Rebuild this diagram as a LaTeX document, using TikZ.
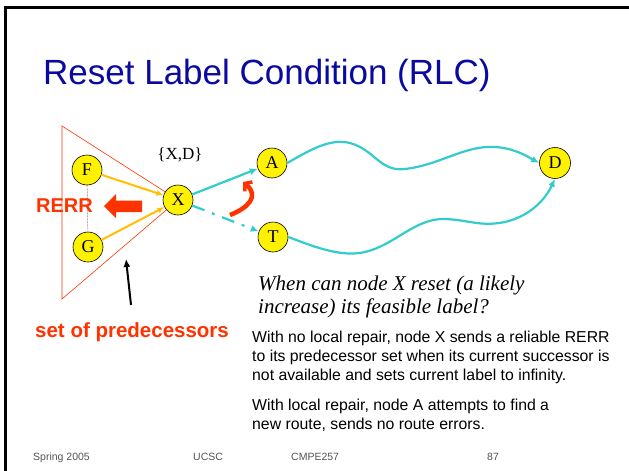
\documentclass[tikz,border=0pt]{standalone}
\usepackage{fontspec}
\setmainfont{Liberation Serif}
\setsansfont{Liberation Sans}
\usetikzlibrary{arrows.meta}
\definecolor{titleblue}{RGB}{10,10,160}
\definecolor{rerrred}{RGB}{255,51,0}
\definecolor{cyanline}{RGB}{51,204,204}
\definecolor{goldline}{RGB}{255,192,0}
\definecolor{footgray}{RGB}{85,85,85}
\tikzset{
  vert/.style={circle, draw=black, line width=0.6pt, fill=yellow, minimum size=30pt, inner sep=0pt, font=\fontsize{18}{18}\selectfont},
  cyanarrow/.style={draw=cyanline, line width=2.2pt, -{Latex[length=8pt,width=7pt]}},
  goldarrow/.style={draw=goldline, line width=2pt, -{Latex[length=7pt,width=6pt]}},
  body/.style={anchor=base west, font=\sffamily\fontsize{15.8}{15.8}\selectfont, inner sep=0pt},
  itext/.style={anchor=base west, font=\itshape\fontsize{21}{21}\selectfont, inner sep=0pt},
  foot/.style={anchor=base west, text=footgray, font=\sffamily\fontsize{10.5}{10.5}\selectfont, inner sep=0pt},
}
\begin{document}
\begin{tikzpicture}[x=1pt,y=-1pt]
\useasboundingbox (0,0) rectangle (629,471);
\fill[white] (0,0) rectangle (629,471);
% frame
\draw[line width=2.2pt] (5.5,471) -- (5.5,7.5) -- (629,7.5);
% title
\node[anchor=base west, inner sep=0pt, text=titleblue, font=\sffamily\fontsize{35}{35}\selectfont] (title) at (43,84) {Reset Label Condition (RLC)};
% triangle
\coordinate (t1) at (62,126);
\coordinate (t2) at (62,299);
\coordinate (tx) at (178,200);
\draw[rerrred, line width=0.6pt] (t1) -- (tx) -- (t2) -- cycle;
% nodes
\node[vert] (F) at (87,170) {F};
\node[vert] (G) at (88,247) {G};
\node[vert] (X) at (178,200) {X};
\node[vert] (A) at (272,163) {A};
\node[vert] (T) at (273,237) {T};
\node[vert, minimum size=31pt] (D) at (555,163) {D};
\draw[gray, line width=0.5pt, dash pattern=on 2pt off 1pt] (F) -- (G);
% predecessor arrows
\draw[goldarrow] (F) -- (X);
\draw[goldarrow] (G) -- (X);
% RERR
\node[anchor=base west, inner sep=0pt, text=rerrred, font=\sffamily\bfseries\fontsize{20}{20}\selectfont] (rerr) at (36,212) {RERR};
\coordinate (bt) at (104,206);
\fill[rerrred] (bt) -- (116,194) -- (116,200.5) -- (142,200.5) -- (142,212) -- (116,212) -- (116,218) -- cycle;
\node[anchor=center, inner sep=0pt, font=\fontsize{17}{17}\selectfont] (xd) at (180,155) {\{X,D\}};
% set of predecessors
\coordinate (pa) at (131,305);
\coordinate (pb) at (126,259);
\draw[line width=2pt, -{Latex[length=8pt,width=7pt]}] (pa) -- (pb);
\node[anchor=base west, inner sep=0pt, text=rerrred, font=\sffamily\bfseries\fontsize{20.5}{20.5}\selectfont] (setp) at (35,337) {set of predecessors};
% cyan links
\draw[cyanarrow] (X) -- (A);
\draw[cyanarrow, dash pattern=on 13pt off 8pt on 3pt off 8pt] (X) -- (T);
\draw[cyanarrow] (A.east) .. controls (310,150) and (330,138) .. (350,143)
  .. controls (375,150) and (380,172) .. (405,169)
  .. controls (440,165) and (465,145) .. (495,147)
  .. controls (515,148) and (530,158) .. (D.west);
\draw[cyanarrow] (T.east) .. controls (310,245) and (340,258) .. (365,252)
  .. controls (395,245) and (415,218) .. (445,219)
  .. controls (470,220) and (480,227) .. (505,222)
  .. controls (530,216) and (545,200) .. (D.south);
% red curved arrow
\coordinate (ra) at (230,215);
\coordinate (rb) at (243,182);
\draw[rerrred, line width=4.5pt, -{Straight Barb[length=5pt,width=12pt,line width=3.5pt]}] (ra) .. controls (248,208) and (260,196) .. (rb);
% italic question
\node[itext] (q1) at (258,290) {When can node X reset (a likely};
\node[itext] (q2) at (258,313) {increase) its feasible label?};
% body text
\node[body] (b1) at (252,342) {With no local repair, node X sends a reliable RERR};
\node[body] (b2) at (252,361) {to its predecessor set when its current successor is};
\node[body] (b3) at (252,380) {not available and sets current label to infinity.};
\node[body] (b4) at (252,410) {With local repair, node A attempts to find a};
\node[body] (b5) at (252,429) {new route, sends no route errors.};
% footer
\node[foot] (f1) at (33,460) {Spring 2005};
\node[foot] (f2) at (193,460) {UCSC};
\node[foot] (f3) at (291,460) {CMPE257};
\node[foot] (f4) at (487,460) {87};
\end{tikzpicture}
\end{document}
